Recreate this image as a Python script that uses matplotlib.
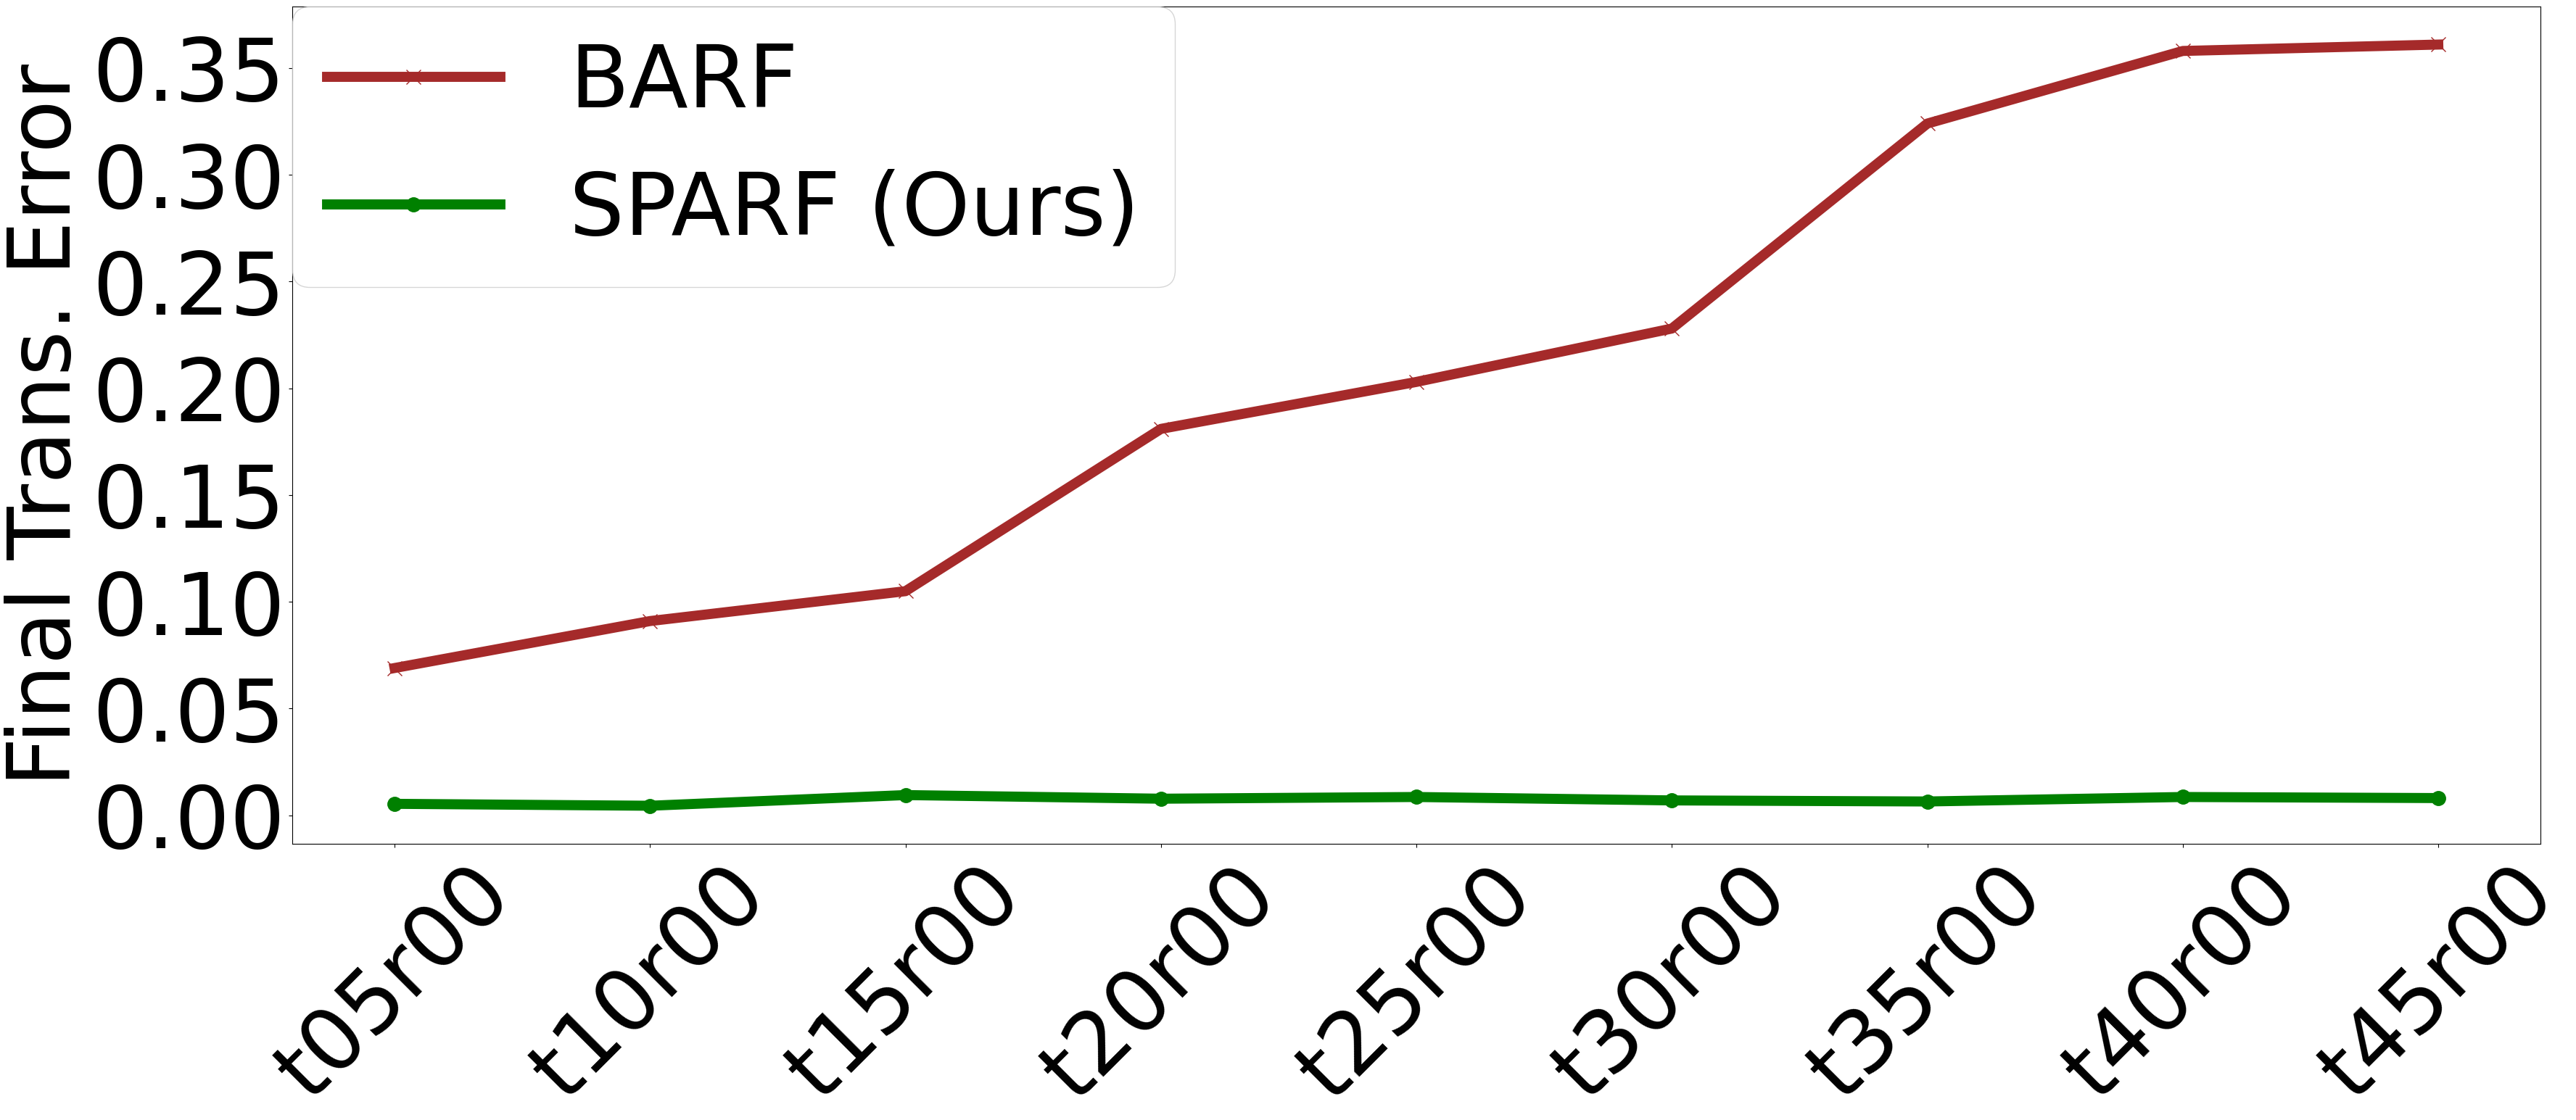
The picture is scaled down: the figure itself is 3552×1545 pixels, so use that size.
import matplotlib
matplotlib.use('Agg')
import matplotlib.pyplot as plt

#--- data
scenes = ['t05r00', 't10r00', 't15r00', 't20r00', 't25r00',
          't30r00', 't35r00', 't40r00', 't45r00']
barf   = [0.069, 0.091, 0.105, 0.181, 0.203, 0.228, 0.324, 0.358, 0.361]
sparf  = [0.0054, 0.0045, 0.0095, 0.0078, 0.0086, 0.0070, 0.0065, 0.0086, 0.0081]

fs = 86

fig = plt.figure(figsize=(35.52, 15.45), dpi=100)
ax  = fig.add_axes([0.1135, 0.2466, 0.8727, 0.7476])

ax.plot(scenes, barf, c='brown', linewidth=10, marker='x',
        markersize=14, label='BARF')
ax.plot(scenes, sparf, c='green', linewidth=10, marker='o',
        markersize=14, label='SPARF (Ours)')

ax.set_ylabel('Final Trans. Error', fontsize=fs)
ax.tick_params(axis='both', labelsize=fs)
plt.setp(ax.get_xticklabels(), rotation=45)
ax.set_yticks([0.0, 0.05, 0.10, 0.15, 0.20, 0.25, 0.30, 0.35])
ax.set_yticklabels(['0.00', '0.05', '0.10', '0.15', '0.20', '0.25', '0.30', '0.35'])

ax.legend(loc='upper left', fontsize=fs, borderaxespad=0)

fig.savefig('out.png', dpi=100)
